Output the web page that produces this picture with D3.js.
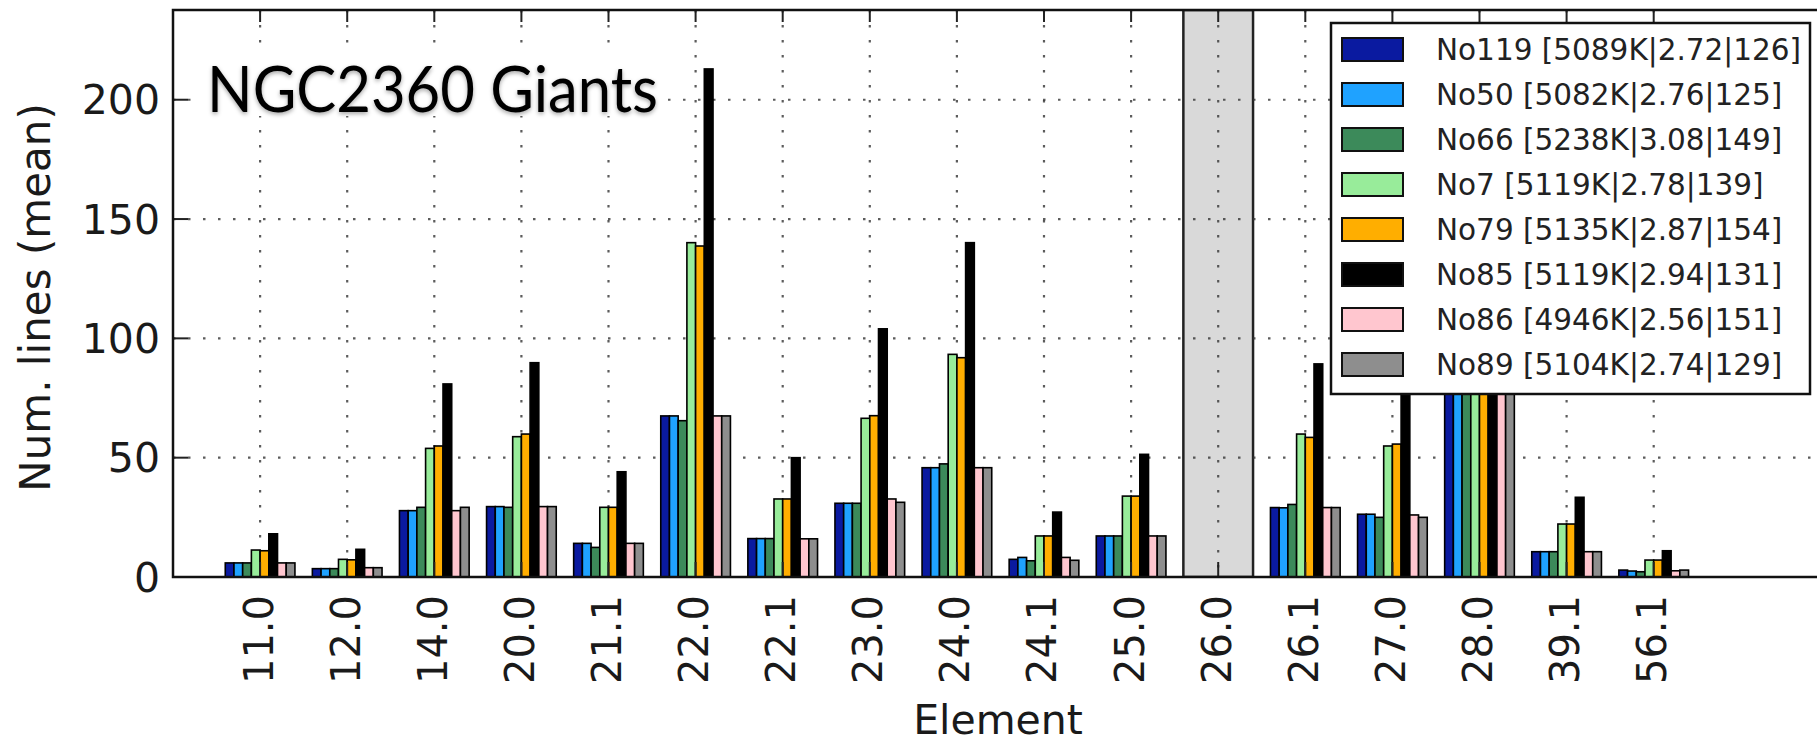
<!DOCTYPE html>
<meta charset="utf-8">
<style>
body { margin: 0; background: #fff; }
.tick-label { font-family: "DejaVu Sans", sans-serif; fill: #1a1a1a; }
.grid line { stroke: #333; stroke-width: 2.2; stroke-dasharray: 2.5,12.5; stroke-opacity: 0.8; }
.bar { stroke: #000; stroke-width: 1.6; }
.legend text { font-family: "DejaVu Sans", sans-serif; font-size: 29.5px; fill: #222; }
</style>
<svg width="1817" height="744"></svg>
<script src="https://d3js.org/d3.v7.min.js"></script>
<script>

var elements = ["11.0","12.0","14.0","20.0","21.1","22.0","22.1","23.0","24.0","24.1","25.0","26.0","26.1","27.0","28.0","39.1","56.1"];

var starNames = ["No119 [5089K|2.72|126]", "No50 [5082K|2.76|125]", "No66 [5238K|3.08|149]",
  "No7 [5119K|2.78|139]", "No79 [5135K|2.87|154]", "No85 [5119K|2.94|131]",
  "No86 [4946K|2.56|151]", "No89 [5104K|2.74|129]"];

var starColors = ["#0a1aa0", "#1fa2ff", "#3c8a5a", "#98ec9a", "#ffae00", "#000000", "#ffc6cf", "#8e8e8e"];

// mean number of lines per element, one array per star
var no119 = [5.9, 3.5, 27.8, 29.5, 14.1, 67.5, 16.1, 30.9, 45.8, 7.4, 17.2, 0, 29.1, 26.3, 78, 10.6, 2.9];
var no50  = [5.9, 3.5, 27.8, 29.5, 14.1, 67.5, 16.1, 30.9, 45.8, 8.2, 17.2, 0, 29.0, 26.3, 78, 10.6, 2.5];
var no66  = [5.9, 3.5, 29.2, 29.2, 12.4, 65.5, 16.1, 30.9, 47.4, 6.8, 17.2, 0, 30.4, 25.0, 77.5, 10.6, 2.2];
var no7   = [11.3, 7.4, 53.9, 58.8, 29.2, 140.1, 32.7, 66.5, 93.3, 17.2, 33.9, 0, 59.9, 54.9, 150, 22.2, 7.1];
var no79  = [11.0, 7.2, 54.9, 59.9, 29.2, 138.7, 32.7, 67.6, 91.9, 17.2, 33.9, 0, 58.5, 55.7, 148, 22.2, 7.1];
var no85  = [18.1, 11.6, 80.9, 89.8, 44.1, 212.9, 50.0, 104.0, 140.1, 27.2, 51.4, 0, 89.3, 84, 222, 33.4, 11.0];
var no86  = [5.9, 3.9, 27.8, 29.5, 14.1, 67.5, 16.0, 32.7, 45.8, 8.2, 17.2, 0, 29.1, 26.0, 78, 10.6, 2.6];
var no89  = [5.9, 3.9, 29.2, 29.5, 14.1, 67.5, 16.0, 31.3, 45.8, 7.0, 17.2, 0, 29.1, 25.0, 78, 10.6, 2.9];

var series = [no119, no50, no66, no7, no79, no85, no86, no89];
var yTicks = [0, 50, 100, 150, 200];
var excluded = "26.0";

var svg = d3.select("svg"),
    width = +svg.attr("width"),
    height = +svg.attr("height");

var plotLeft = 173, plotTop = 10, plotBottom = 577;

var x = d3.scaleLinear().domain([-1, 18]).range([plotLeft, plotLeft + 19 * 87.1]);
var y = d3.scaleLinear().domain([0, 237.6]).range([plotBottom, plotTop]);
var barW = x(0.1) - x(0);
var plotRight = x(18);

svg.append("rect").attr("width", width).attr("height", height).attr("fill", "#fff");

var defs = svg.append("defs");
defs.append("clipPath").attr("id", "plot")
  .append("rect").attr("x", plotLeft).attr("y", plotTop).attr("width", plotRight - plotLeft).attr("height", plotBottom - plotTop);
defs.append("filter").attr("id", "shadow")
  .append("feDropShadow").attr("dx", 0).attr("dy", 2).attr("stdDeviation", 2)
  .attr("flood-color", "#000").attr("flood-opacity", 0.35);

var plot = svg.append("g").attr("clip-path", "url(#plot)");

// shaded excluded element
var ex = elements.indexOf(excluded);
plot.append("rect")
  .attr("x", x(ex - 0.4)).attr("y", plotTop)
  .attr("width", x(ex + 0.4) - x(ex - 0.4)).attr("height", plotBottom - plotTop)
  .attr("fill", "#d9d9d9").attr("stroke", "#222").attr("stroke-width", 2.5);

// grid
var grid = plot.append("g").attr("class", "grid");
grid.selectAll(".gx").data(elements).enter().append("line")
  .attr("x1", function(d, i) { return x(i); }).attr("x2", function(d, i) { return x(i); })
  .attr("y1", plotTop).attr("y2", plotBottom);
grid.selectAll(".gy").data(yTicks.slice(1)).enter().append("line")
  .attr("x1", plotLeft).attr("x2", plotRight)
  .attr("y1", function(d) { return y(d); }).attr("y2", function(d) { return y(d); });

// bars
series.forEach(function(vals, j) {
  plot.append("g").selectAll("rect")
    .data(vals.map(function(v, i) { return {i: i, v: v}; }).filter(function(d) { return d.v > 0; }))
    .enter().append("rect")
      .attr("class", "bar")
      .attr("x", function(d) { return x(d.i - 0.4 + j * 0.1); })
      .attr("width", barW)
      .attr("y", function(d) { return y(d.v); })
      .attr("height", function(d) { return plotBottom - y(d.v); })
      .attr("fill", starColors[j]);
});

// ticks (inward)
var ticks = svg.append("g").attr("stroke", "#222").attr("stroke-width", 2);
elements.forEach(function(e, i) {
  ticks.append("line").attr("x1", x(i)).attr("x2", x(i)).attr("y1", plotBottom).attr("y2", plotBottom - 15);
  ticks.append("line").attr("x1", x(i)).attr("x2", x(i)).attr("y1", plotTop).attr("y2", plotTop + 12);
});
yTicks.forEach(function(t) {
  ticks.append("line").attr("x1", plotLeft).attr("x2", plotLeft + 15).attr("y1", y(t)).attr("y2", y(t));
});

// frame
svg.append("rect")
  .attr("x", plotLeft).attr("y", plotTop).attr("width", plotRight - plotLeft).attr("height", plotBottom - plotTop)
  .attr("fill", "none").attr("stroke", "#111").attr("stroke-width", 2.5);

// tick labels
svg.append("g").selectAll("text").data(yTicks).enter().append("text")
  .attr("class", "tick-label")
  .attr("x", 160).attr("y", function(d) { return y(d); })
  .attr("dy", "0.36em").attr("text-anchor", "end")
  .style("font-size", "41px")
  .text(function(d) { return d; });

svg.append("g").selectAll("text").data(elements).enter().append("text")
  .attr("class", "tick-label")
  .attr("transform", function(d, i) { return "translate(" + (x(i) - 2) + ",595) rotate(-90)"; })
  .attr("dy", "0.36em").attr("text-anchor", "end")
  .style("font-size", "40px")
  .text(function(d) { return d; });

// axis titles
svg.append("text")
  .attr("class", "tick-label")
  .attr("transform", "translate(50," + ((plotTop + plotBottom) / 2 + 4) + ") rotate(-90)")
  .attr("text-anchor", "middle")
  .style("font-size", "42px")
  .text("Num. lines (mean)");

svg.append("text")
  .attr("class", "tick-label")
  .attr("x", 998).attr("y", 734)
  .attr("text-anchor", "middle")
  .style("font-size", "41px")
  .text("Element");

// title with white box
svg.append("rect").attr("x", 200).attr("y", 44).attr("width", 466).attr("height", 72).attr("fill", "#fff");
svg.append("text")
  .attr("x", 207).attr("y", 112)
  .attr("textLength", 451).attr("lengthAdjust", "spacingAndGlyphs")
  .attr("filter", "url(#shadow)")
  .style("font-family", "Lato, sans-serif").style("font-size", "63px").style("fill", "#000")
  .text("NGC2360 Giants");

// legend
var legend = svg.append("g").attr("class", "legend");
legend.append("rect")
  .attr("x", 1331).attr("y", 23).attr("width", 479).attr("height", 371)
  .attr("fill", "#fff").attr("stroke", "#111").attr("stroke-width", 2.5);
var rows = legend.selectAll("g.row").data(starNames).enter().append("g")
  .attr("transform", function(d, i) { return "translate(0," + (49.5 + i * 45) + ")"; });
rows.append("rect")
  .attr("x", 1342).attr("y", -11.5).attr("width", 61).attr("height", 23)
  .attr("fill", function(d, i) { return starColors[i]; })
  .attr("stroke", "#111").attr("stroke-width", 2);
rows.append("text")
  .attr("x", 1436).attr("y", 10.5)
  .text(function(d) { return d; });

</script>
